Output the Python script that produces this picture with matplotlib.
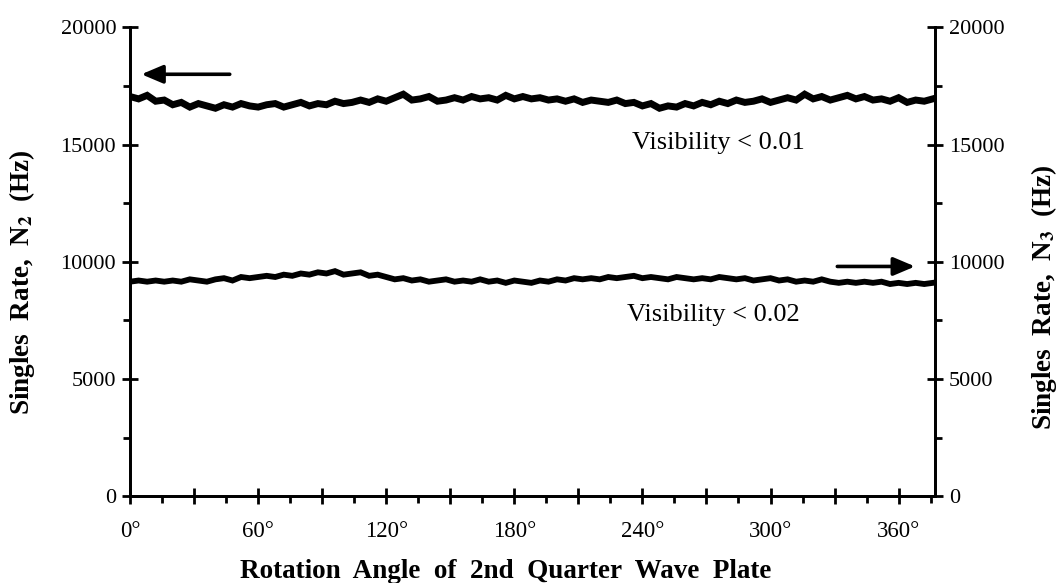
import numpy as np
import matplotlib.pyplot as plt
from matplotlib.ticker import MultipleLocator, FuncFormatter

# rotation angle of the 2nd quarter wave plate (deg), sampled every 4 deg
angle = np.arange(0, 377, 4)

# singles rate N2 (Hz), left axis
n2 = [17050, 16950, 17100, 16850, 16900, 16700, 16800, 16600, 16750, 16650,
      16550, 16700, 16600, 16750, 16650, 16600, 16700, 16750, 16600, 16700,
      16800, 16650, 16750, 16700, 16850, 16750, 16800, 16900, 16800, 16950,
      16850, 17000, 17150, 16900, 16950, 17050, 16850, 16900, 17000, 16900,
      17050, 16950, 17000, 16900, 17100, 16950, 17050, 16950, 17000, 16900,
      16950, 16850, 16950, 16800, 16900, 16850, 16800, 16900, 16750, 16800,
      16650, 16750, 16550, 16650, 16600, 16750, 16650, 16800, 16700, 16850,
      16750, 16900, 16800, 16850, 16950, 16800, 16900, 17000, 16900, 17150,
      16950, 17050, 16900, 17000, 17100, 16950, 17050, 16900, 16950, 16850,
      17000, 16800, 16900, 16850, 16950]

# singles rate N3 (Hz), right axis
n3 = [9150, 9200, 9150, 9200, 9150, 9200, 9150, 9250, 9200, 9150,
      9250, 9300, 9200, 9350, 9300, 9350, 9400, 9350, 9450, 9400,
      9500, 9450, 9550, 9500, 9600, 9450, 9500, 9550, 9400, 9450,
      9350, 9250, 9300, 9200, 9250, 9150, 9200, 9250, 9150, 9200,
      9150, 9250, 9150, 9200, 9100, 9200, 9150, 9100, 9200, 9150,
      9250, 9200, 9300, 9250, 9300, 9250, 9350, 9300, 9350, 9400,
      9300, 9350, 9300, 9250, 9350, 9300, 9250, 9300, 9250, 9350,
      9300, 9250, 9300, 9200, 9250, 9300, 9200, 9250, 9150, 9200,
      9150, 9250, 9150, 9100, 9150, 9100, 9150, 9100, 9150, 9050,
      9100, 9050, 9100, 9050, 9100]

serif = 'Liberation Serif'
plt.rcParams['mathtext.fontset'] = 'stix'
fig = plt.figure(figsize=(10.59, 5.83), dpi=100)
ax = fig.add_axes([0.1228, 0.149, 0.760, 0.804])
ax2 = ax.twinx()

ax.plot(angle, n2, color='black', lw=5, solid_joinstyle='miter')
ax2.plot(angle, n3, color='black', lw=4.2, solid_joinstyle='miter')

for a in (ax, ax2):
    a.set_xlim(0, 377)
    a.set_ylim(0, 20000)
    a.spines['top'].set_visible(False)
    for s in ('left', 'right', 'bottom'):
        a.spines[s].set_linewidth(2)
    a.yaxis.set_major_locator(MultipleLocator(5000))
    a.yaxis.set_minor_locator(MultipleLocator(2500))
    a.tick_params(axis='y', which='major', direction='inout', length=12, width=2,
                  labelsize=16, pad=4)
    a.tick_params(axis='y', which='minor', direction='out', length=5, width=2)

ax.xaxis.set_major_locator(MultipleLocator(30))
ax.xaxis.set_minor_locator(MultipleLocator(15))
ax.xaxis.set_major_formatter(FuncFormatter(
    lambda v, p: f'{int(v)}°' if int(v) % 60 == 0 else ''))
ax.tick_params(axis='x', which='major', direction='inout', length=12, width=2,
               labelsize=16.5, pad=12)
ax.tick_params(axis='x', which='minor', direction='out', length=5, width=2)

for lab in ax.get_xticklabels() + ax.get_yticklabels() + ax2.get_yticklabels():
    lab.set_family(serif)

ax.set_xlabel('Rotation  Angle  of  2nd  Quarter  Wave  Plate', family=serif,
              fontweight='bold', fontsize=19.5)
ax.xaxis.set_label_coords(0.467, -0.134)
ax.set_ylabel('Singles  Rate,  N$_\\mathbf{2}$  (Hz)', family=serif,
              fontweight='bold', fontsize=19.5)
ax.yaxis.set_label_coords(-0.116, 0.456)
ax2.set_ylabel('Singles  Rate,  N$_\\mathbf{3}$  (Hz)', family=serif,
               fontweight='bold', fontsize=19.5)
ax2.yaxis.set_label_coords(1.117, 0.424)

ax.text(235, 15050, 'Visibility < 0.01', family=serif, fontsize=19, va='center')
ax.text(233, 7720, 'Visibility < 0.02', family=serif, fontsize=19, va='center')

ax.annotate('', xy=(4, 18000), xytext=(48, 18000),
            arrowprops=dict(arrowstyle='-|>,head_length=1.3,head_width=0.55',
                            color='black', lw=2.6))
ax.annotate('', xy=(369, 9800), xytext=(330, 9800),
            arrowprops=dict(arrowstyle='-|>,head_length=1.3,head_width=0.55',
                            color='black', lw=2.6))

plt.savefig('out.png', dpi=100)
plt.close(fig)
